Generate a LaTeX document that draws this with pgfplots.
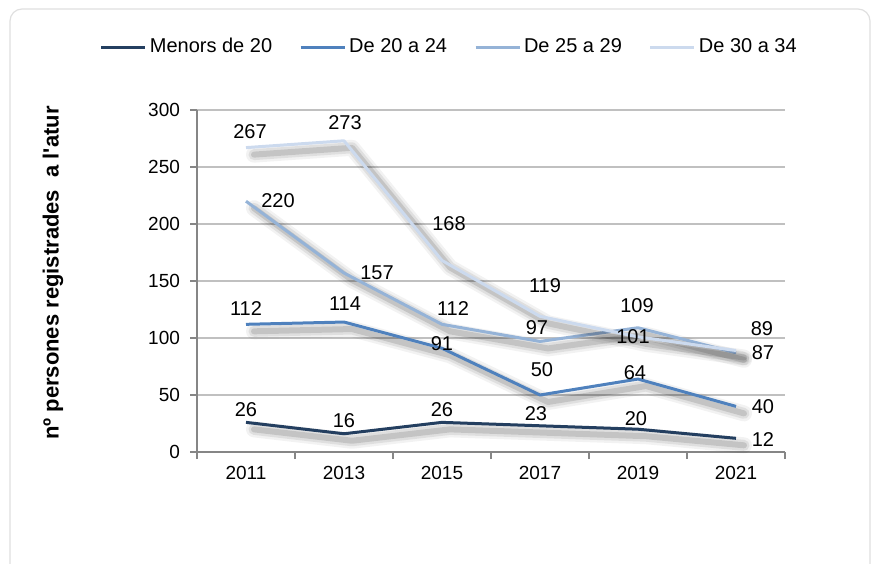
\documentclass[border=0pt]{standalone}
\usepackage{pgfplots}
\usepackage{pgfplotstable}
\pgfplotsset{compat=1.18}
\usepackage{fontspec}
\setmainfont{Liberation Sans}

\definecolor{cA}{HTML}{243F60}
\definecolor{cB}{HTML}{4F81BD}
\definecolor{cC}{HTML}{95B3D7}
\definecolor{cD}{HTML}{CCDAEE}
\definecolor{gridc}{HTML}{C0C0C0}
\definecolor{axisc}{HTML}{868686}

% x = category index (0 = 2011 ... 5 = 2021), y = value, dx/dy = label offset in pt
\pgfplotstableread{
x y dx dy
0 26 0 6.5
1 16 0 6.5
2 26 0 6.5
3 23 -2 6
4 20 -1 5.5
5 12 13.5 -0.5
}\tA
\pgfplotstableread{
x y dx dy
0 112 0 8
1 114 0.5 9
2 91 0 2.5
3 50 1 12.5
4 64 -1.5 3
5 40 13.5 0
}\tB
\pgfplotstableread{
x y dx dy
0 220 16 0.5
1 157 16.5 0
2 112 5.5 8
3 97 -1.5 7
4 109 -0.5 11
5 87 13.5 0
}\tC
\pgfplotstableread{
x y dx dy
0 267 2 8
1 273 0.5 9
2 168 3.5 18.5
3 119 2.5 15.5
4 101 -2.5 0
5 89 13 11
}\tD

\pgfplotsset{
  shadowA/.style={black, opacity=0.05, line width=8pt, xshift=4pt, yshift=-3.5pt, line join=round, line cap=round, forget plot},
  shadowB/.style={black, opacity=0.08, line width=5.5pt, xshift=4pt, yshift=-3.5pt, line join=round, line cap=round, forget plot},
  shadowC/.style={black, opacity=0.12, line width=3pt, xshift=4pt, yshift=-3.5pt, line join=round, line cap=round, forget plot},
  mainline/.style={line width=1.5pt, line join=round, no marks,
    nodes near coords, point meta=explicit,
    visualization depends on={\thisrow{dx} \as \dx},
    visualization depends on={\thisrow{dy} \as \dy},
    nodes near coords style={anchor=center, xshift=\dx pt, yshift=\dy pt, text=black, font=\fontsize{10}{12}\selectfont, inner sep=0pt}},
}

\begin{document}
\begin{tikzpicture}[x=1pt,y=1pt]
\useasboundingbox (0,0) rectangle (436,281.5);
\draw[gray!25, rounded corners=6pt, line width=0.6pt] (5,-10) rectangle (435,277);
\begin{axis}[
  at={(98.5pt,55.5pt)}, anchor=south west,
  scale only axis, width=294pt, height=171pt,
  xmin=-0.5, xmax=5.5, ymin=0, ymax=300,
  axis x line=bottom, axis y line=left,
  axis line style={-, draw=axisc, line width=0.6pt},
  xtick={0,1,2,3,4,5},
  xticklabels={2011,2013,2015,2017,2019,2021},
  minor xtick={-0.5,0.5,1.5,2.5,3.5,4.5,5.5},
  ytick={0,50,100,150,200,250,300},
  ymajorgrids, grid style={gridc, line width=0.6pt},
  tick align=outside, major tick length=3.5pt, minor tick length=3.5pt,
  major x tick style={draw=none},
  minor x tick style={draw=axisc, line width=0.6pt},
  major y tick style={draw=axisc, line width=0.6pt},
  /pgf/number format/assume math mode=true,
  tick label style={font=\fontsize{9.5}{11}\selectfont},
  yticklabel style={xshift=-1.5pt},
  ylabel={nº persones registrades\ \ a l\textquotesingle atur},
  ylabel style={at={(axis description cs:-0.245,0.523)}, anchor=center, font=\bfseries\fontsize{11}{13}\selectfont},
  legend columns=4,
  legend style={draw=none, fill=none, at={(axis description cs:0.43,1.184)}, anchor=center,
    font=\fontsize{10}{12}\selectfont,
    /tikz/every even column/.append style={column sep=12pt},
    nodes={inner xsep=1.5pt}},
  legend image code/.code={\draw[#1, line width=1.5pt] (0pt,0pt) -- (22pt,0pt);},
  clip=false,
]
\addplot[shadowA] table[x=x,y=y] {\tA};
\addplot[shadowB] table[x=x,y=y] {\tA};
\addplot[shadowC] table[x=x,y=y] {\tA};
\addplot[cA, mainline] table[x=x,y=y,meta=y] {\tA};
\addlegendentry{Menors de 20}

\addplot[shadowA] table[x=x,y=y] {\tB};
\addplot[shadowB] table[x=x,y=y] {\tB};
\addplot[shadowC] table[x=x,y=y] {\tB};
\addplot[cB, mainline] table[x=x,y=y,meta=y] {\tB};
\addlegendentry{De 20 a 24}

\addplot[shadowA] table[x=x,y=y] {\tC};
\addplot[shadowB] table[x=x,y=y] {\tC};
\addplot[shadowC] table[x=x,y=y] {\tC};
\addplot[cC, mainline] table[x=x,y=y,meta=y] {\tC};
\addlegendentry{De 25 a 29}

\addplot[shadowA] table[x=x,y=y] {\tD};
\addplot[shadowB] table[x=x,y=y] {\tD};
\addplot[shadowC] table[x=x,y=y] {\tD};
\addplot[cD, mainline] table[x=x,y=y,meta=y] {\tD};
\addlegendentry{De 30 a 34}
\end{axis}
\end{tikzpicture}
\end{document}
